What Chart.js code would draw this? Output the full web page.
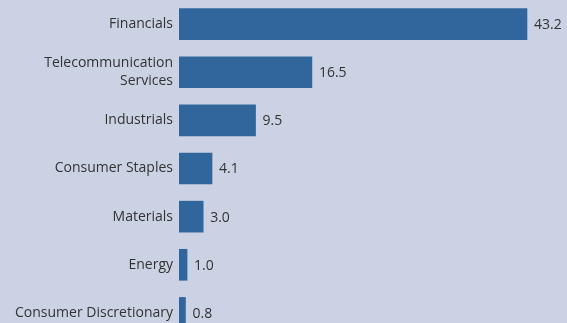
<!DOCTYPE html>
<html>
<head>
<meta charset="utf-8">
<script src="https://cdn.jsdelivr.net/npm/chart.js@4"></script>
<style>
  html, body { margin: 0; padding: 0; background: #cbd2e4; overflow: hidden; }
  #wrap { width: 567px; height: 337px; }
</style>
</head>
<body>
<div id="wrap"><canvas id="sector-chart"></canvas></div>
<script>
const categories = [
  "Financials",
  ["Telecommunication", "Services"],
  "Industrials",
  "Consumer Staples",
  "Materials",
  "Energy",
  "Consumer Discretionary",
];
const values = [43.2, 16.5, 9.5, 4.1, 3.0, 1.0, 0.8];

const valueLabels = {
  id: "valueLabels",
  afterDatasetsDraw(chart) {
    const ctx = chart.ctx;
    const meta = chart.getDatasetMeta(0);
    ctx.save();
    ctx.font = "14px 'Open Sans'";
    ctx.fillStyle = "#333333";
    ctx.textAlign = "left";
    ctx.textBaseline = "middle";
    meta.data.forEach((bar, i) => {
      ctx.fillText(values[i].toFixed(1), bar.x + 7, bar.y + 1);
    });
    ctx.restore();
  },
};

const ctx = document.getElementById("sector-chart").getContext("2d");
new Chart(ctx, {
  type: "bar",
  data: {
    labels: categories,
    datasets: [
      {
        data: values,
        backgroundColor: "#31669c",
        barThickness: 31,
      },
    ],
  },
  options: {
    indexAxis: "y",
    responsive: true,
    maintainAspectRatio: false,
    animation: false,
    layout: { padding: { top: 0, right: 7, bottom: 0, left: 0 } },
    plugins: {
      legend: { display: false },
      tooltip: { enabled: false },
    },
    scales: {
      x: {
        display: false,
        min: 0,
        max: 47.3,
      },
      y: {
        grid: { display: false, drawTicks: false },
        border: { display: false },
        ticks: {
          color: "#333333",
          padding: 6,
          font: { family: "'Open Sans'", size: 14, lineHeight: 1.25 },
        },
        afterFit(scale) {
          scale.width = 179;
          scale.paddingTop = 0;
          scale.paddingBottom = 0;
        },
      },
    },
  },
  plugins: [valueLabels],
});
</script>
</body>
</html>
